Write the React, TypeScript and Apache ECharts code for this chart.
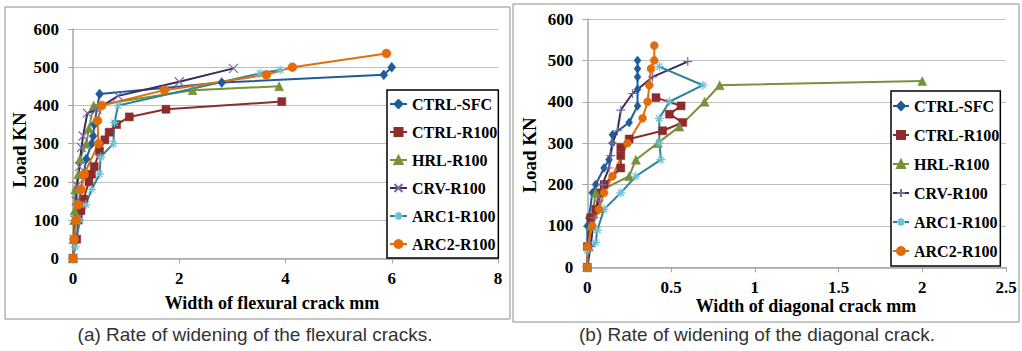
import React, { useEffect, useRef } from "react";
import * as echarts from "echarts";

const seriesNames = ["CTRL-SFC", "CTRL-R100", "HRL-R100", "CRV-R100", "ARC1-R100", "ARC2-R100"];
const seriesColors = ["#1F5A9A", "#8E2B2B", "#76933C", "#3B2A5C", "#2E8299", "#E36C0A"];

// (a) flexural crack widths (mm) and loads (kN)
const flexCtrlSfcW = [0, 0.02, 0.05, 0.1, 0.15, 0.2, 0.25, 0.35, 0.38, 0.4, 0.5, 2.8, 5.85, 6.0];
const flexCtrlSfcL = [0, 50, 100, 140, 180, 220, 260, 300, 320, 350, 430, 460, 480, 500];
const flexCtrlR100W = [0, 0.07, 0.1, 0.15, 0.2, 0.3, 0.35, 0.4, 0.5, 0.6, 0.68, 0.82, 1.06, 1.75, 3.93];
const flexCtrlR100L = [0, 50, 100, 125, 155, 200, 220, 240, 280, 310, 330, 350, 370, 390, 410];
const flexHrlW = [0, 0.01, 0.02, 0.03, 0.04, 0.1, 0.13, 0.25, 0.3, 0.39, 2.25, 3.88];
const flexHrlL = [0, 50, 100, 125, 180, 220, 260, 300, 340, 400, 440, 450];
const flexCrvW = [0, 0.02, 0.04, 0.06, 0.08, 0.12, 0.16, 0.19, 0.27, 0.45, 0.85, 2.0, 3.02];
const flexCrvL = [0, 50, 100, 150, 190, 240, 290, 320, 380, 390, 425, 462, 497];
const flexArc1W = [0, 0.04, 0.13, 0.24, 0.35, 0.5, 0.52, 0.76, 0.78, 0.85, 3.52, 3.9];
const flexArc1L = [0, 30, 100, 140, 180, 220, 265, 300, 355, 400, 484, 493];
const flexArc2W = [0, 0.02, 0.06, 0.1, 0.15, 0.21, 0.48, 0.46, 0.54, 1.72, 3.64, 4.13, 5.9];
const flexArc2L = [0, 50, 100, 140, 180, 220, 300, 360, 400, 440, 480, 500, 536];

// (b) diagonal crack widths (mm) and loads (kN)
const diagCtrlSfcW = [0, 0, 0.01, 0.03, 0.05, 0.1, 0.13, 0.15, 0.15, 0.25, 0.3, 0.3, 0.3, 0.3, 0.3];
const diagCtrlSfcL = [0, 100, 120, 180, 200, 240, 260, 300, 320, 350, 390, 430, 460, 480, 500];
const diagCtrlR100W = [0, 0, 0.02, 0.05, 0.07, 0.1, 0.2, 0.2, 0.2, 0.25, 0.45, 0.57, 0.49, 0.56, 0.41];
const diagCtrlR100L = [0, 50, 120, 140, 180, 200, 240, 270, 290, 310, 330, 350, 370, 390, 410];
const diagHrlW = [0, 0.01, 0.02, 0.05, 0.25, 0.29, 0.42, 0.55, 0.7, 0.79, 2.0];
const diagHrlL = [0, 50, 100, 180, 220, 260, 300, 340, 400, 440, 450];
const diagCrvW = [0, 0.02, 0.04, 0.07, 0.09, 0.13, 0.14, 0.15, 0.18, 0.2, 0.27, 0.39, 0.6];
const diagCrvL = [0, 50, 120, 160, 200, 240, 270, 300, 330, 380, 420, 460, 497];
const diagArc1W = [0, 0, 0.05, 0.06, 0.1, 0.2, 0.29, 0.44, 0.43, 0.43, 0.49, 0.69, 0.43];
const diagArc1L = [0, 40, 60, 90, 140, 180, 220, 260, 300, 360, 400, 440, 485];
const diagArc2W = [0, 0, 0.03, 0.07, 0.1, 0.15, 0.24, 0.33, 0.36, 0.37, 0.38, 0.4, 0.4];
const diagArc2L = [0, 50, 100, 140, 180, 220, 300, 360, 400, 440, 480, 500, 536];

const flexXTicks = [0, 8, 2];
const diagXTicks = [0, 2.5, 0.5];
const loadTicks = [0, 600, 100];

const captionA = "(a) Rate of widening of the flexural cracks.";
const captionB = "(b) Rate of widening of the diagonal crack.";

const SERIF = "'Liberation Serif', 'Times New Roman', serif";
const SANS = "'Liberation Sans', Arial, sans-serif";

const X_SYM = "path://M0,0L10,10M10,0L0,10";
const PLUS_SYM = "path://M5,0L5,10M0,5L10,5";
const STAR_SYM = "path://M5,0L5,10M0,5L10,5M1.5,1.5L8.5,8.5M8.5,1.5L1.5,8.5";

function pairs(w: number[], l: number[]) {
  return w.map((v, i) => [v, l[i]]);
}

export default function App() {
  const ref = useRef<HTMLDivElement>(null);
  useEffect(() => {
    if (!ref.current) return;
    const chart = echarts.init(ref.current, undefined, { renderer: "svg" });

    const flexData = [
      pairs(flexCtrlSfcW, flexCtrlSfcL),
      pairs(flexCtrlR100W, flexCtrlR100L),
      pairs(flexHrlW, flexHrlL),
      pairs(flexCrvW, flexCrvL),
      pairs(flexArc1W, flexArc1L),
      pairs(flexArc2W, flexArc2L),
    ];
    const diagData = [
      pairs(diagCtrlSfcW, diagCtrlSfcL),
      pairs(diagCtrlR100W, diagCtrlR100L),
      pairs(diagHrlW, diagHrlL),
      pairs(diagCrvW, diagCrvL),
      pairs(diagArc1W, diagArc1L),
      pairs(diagArc2W, diagArc2L),
    ];
    const symbolsA = ["diamond", "rect", "triangle", X_SYM, STAR_SYM, "circle"];
    const symbolsB = ["diamond", "rect", "triangle", PLUS_SYM, STAR_SYM, "circle"];
    const sizesA: any[] = [[8, 10], 8, 9, 9, 9, 9];
    const sizesB: any[] = [[7, 9], 8, 9, 9, 9, 8];
    const stroked = [false, false, false, true, true, false];
    const markColors = ["#1F5A9A", "#8E2B2B", "#76933C", "#7A68A0", "#6CC0D6", "#E36C0A"];

    const makeSeries = (data: number[][][], idx: number, symbols: string[], sizes: any[], suffix: string) =>
      data.map((d, i) => ({
        name: seriesNames[i] + suffix,
        type: "line",
        xAxisIndex: idx,
        yAxisIndex: idx,
        data: d,
        symbol: symbols[i],
        symbolSize: sizes[i],
        showAllSymbol: true,
        lineStyle: { color: seriesColors[i], width: 2 },
        itemStyle: stroked[i]
          ? { color: "rgba(0,0,0,0)", borderColor: markColors[i], borderWidth: 1.2 }
          : { color: seriesColors[i], borderColor: seriesColors[i], borderWidth: 0.5 },
        emphasis: { disabled: true },
      }));

    const axisLabel = { fontFamily: SERIF, fontWeight: "bold", fontSize: 17, color: "#000" };
    const gridLine = { show: true, lineStyle: { color: "#BFBFBF", width: 1.2 } };
    const axisLine = { show: true, lineStyle: { color: "#A6A6A6", width: 1.5 } };
    const tick = { show: true, length: 5, lineStyle: { color: "#A6A6A6" } };

    const legendBase = {
      orient: "vertical",
      itemHeight: 10,
      backgroundColor: "#fff",
      borderColor: "#000",
      borderWidth: 1.5,
      textStyle: { fontFamily: SERIF, fontWeight: "bold", fontSize: 16, lineHeight: 16, color: "#000" },
      formatter: (n: string) => n.replace(" (b)", ""),
    };

    chart.setOption({
      animation: false,
      backgroundColor: "#fff",
      grid: [
        { left: 73, top: 29, width: 425, height: 229.3 },
        { left: 587.3, top: 19, width: 418.7, height: 248.3 },
      ],
      xAxis: [
        {
          type: "value", gridIndex: 0, min: flexXTicks[0], max: flexXTicks[1], interval: flexXTicks[2],
          axisLine, axisTick: tick, splitLine: { show: false }, axisLabel: { ...axisLabel, margin: 12 },
        },
        {
          type: "value", gridIndex: 1, min: diagXTicks[0], max: diagXTicks[1], interval: diagXTicks[2],
          axisLine, axisTick: tick, splitLine: { show: false }, axisLabel: { ...axisLabel, margin: 12 },
        },
      ],
      yAxis: [
        {
          type: "value", gridIndex: 0, min: loadTicks[0], max: loadTicks[1], interval: loadTicks[2],
          axisLine, axisTick: tick, splitLine: gridLine, axisLabel: { ...axisLabel, margin: 14 },
        },
        {
          type: "value", gridIndex: 1, min: loadTicks[0], max: loadTicks[1], interval: loadTicks[2],
          axisLine, axisTick: tick, splitLine: gridLine, axisLabel: { ...axisLabel, margin: 14 },
        },
      ],
      legend: [
        { ...legendBase, data: seriesNames, left: 387, top: 90, itemWidth: 17, itemGap: 12, padding: [6, 1, 6, 2] },
        { ...legendBase, data: seriesNames.map((n) => n + " (b)"), left: 891, top: 91, itemWidth: 16, itemGap: 13, padding: [7, 1, 7, 1] },
      ],
      series: [
        ...makeSeries(flexData, 0, symbolsA, sizesA, ""),
        ...makeSeries(diagData, 1, symbolsB, sizesB, " (b)"),
      ],
      graphic: [
        { type: "rect", shape: { x: 5, y: 7, width: 505, height: 312 }, style: { fill: "none", stroke: "#8C8C8C", lineWidth: 1 }, silent: true },
        { type: "rect", shape: { x: 513, y: 4, width: 506, height: 318 }, style: { fill: "none", stroke: "#8C8C8C", lineWidth: 1 }, silent: true },
        { type: "text", x: 19, y: 150, rotation: Math.PI / 2, style: { text: "Load KN", font: `bold 19px ${SERIF}`, fill: "#000", align: "center", verticalAlign: "middle" } },
        { type: "text", x: 529, y: 155, rotation: Math.PI / 2, style: { text: "Load KN", font: `bold 19px ${SERIF}`, fill: "#000", align: "center", verticalAlign: "middle" } },
        { type: "text", x: 272, y: 303, style: { text: "Width of flexural crack mm", font: `bold 18px ${SERIF}`, fill: "#000", align: "center", verticalAlign: "middle" } },
        { type: "text", x: 806, y: 306, style: { text: "Width of diagonal crack mm", font: `bold 18px ${SERIF}`, fill: "#000", align: "center", verticalAlign: "middle" } },
        { type: "text", x: 255, y: 334, style: { text: captionA, font: `19px ${SANS}`, fill: "#333", align: "center", verticalAlign: "middle" } },
        { type: "text", x: 757, y: 334, style: { text: captionB, font: `19px ${SANS}`, fill: "#333", align: "center", verticalAlign: "middle" } },
      ],
    });
    return () => chart.dispose();
  }, []);
  return <div ref={ref} style={{ position: "absolute", left: 0, top: 0, width: 1022, height: 351 }} />;
}
